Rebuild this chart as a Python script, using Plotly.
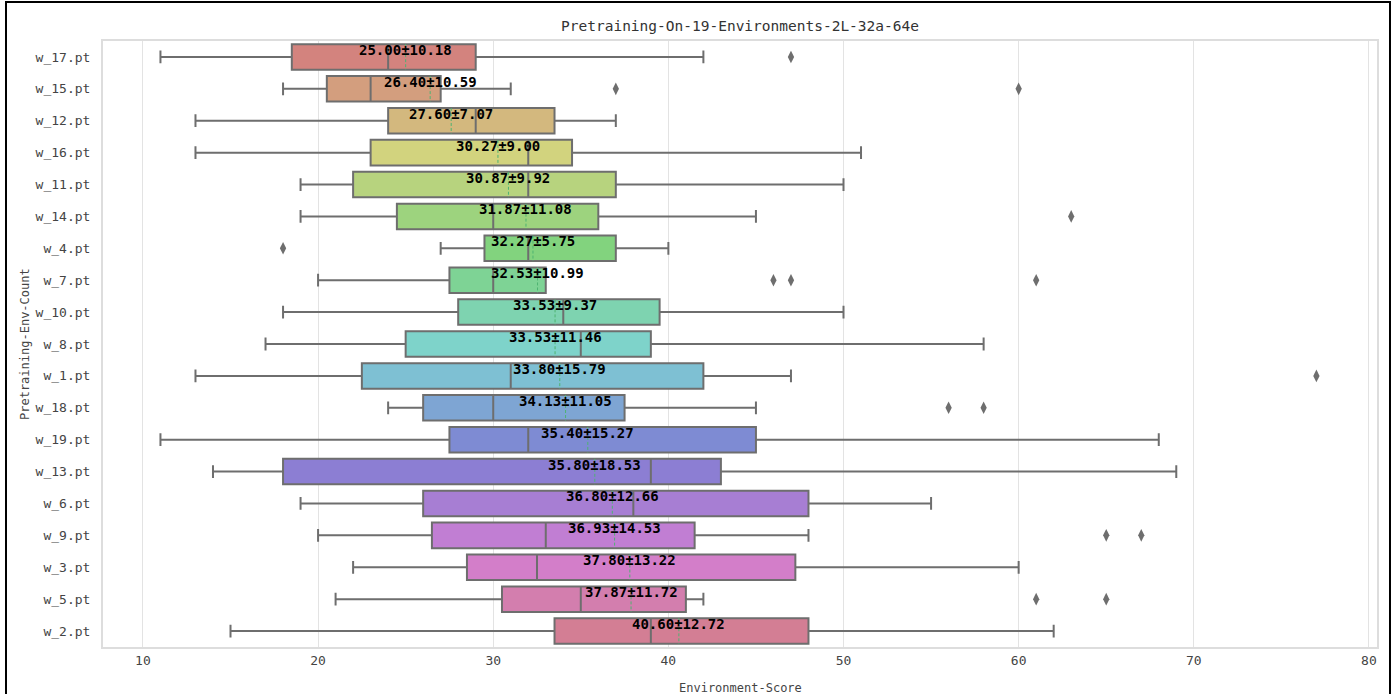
import colorsys
import plotly.graph_objects as go

# Runs sorted by mean score (top to bottom)
labels = ["w_17.pt", "w_15.pt", "w_12.pt", "w_16.pt", "w_11.pt", "w_14.pt", "w_4.pt",
          "w_7.pt", "w_10.pt", "w_8.pt", "w_1.pt", "w_18.pt", "w_19.pt", "w_13.pt",
          "w_6.pt", "w_9.pt", "w_3.pt", "w_5.pt", "w_2.pt"]
lower_whisker = [11, 18, 13, 13, 19, 19, 27, 20, 18, 17, 13, 24, 11, 14, 19, 20, 22, 21, 15]
q1 = [18.5, 20.5, 24, 23, 22, 24.5, 29.5, 27.5, 28, 25, 22.5, 26, 27.5, 18, 26, 26.5, 28.5, 30.5, 33.5]
median = [24, 23, 29, 32, 32, 30, 32, 30, 34, 35, 31, 30, 32, 39, 38, 33, 32.5, 35, 39]
q3 = [29, 27, 33.5, 34.5, 37, 36, 37, 33, 39.5, 39, 42, 37.5, 45, 43, 48, 41.5, 47.25, 41, 48]
upper_whisker = [42, 31, 37, 51, 50, 45, 40, 33, 50, 58, 47, 45, 68, 69, 55, 48, 60, 42, 62]
means = [25.00, 26.40, 27.60, 30.27, 30.87, 31.87, 32.27, 32.53, 33.53, 33.53, 33.80,
         34.13, 35.40, 35.80, 36.80, 36.93, 37.80, 37.87, 40.60]
stds = [10.18, 10.59, 7.07, 9.00, 9.92, 11.08, 5.75, 10.99, 9.37, 11.46, 15.79,
        11.05, 15.27, 18.53, 12.66, 14.53, 13.22, 11.72, 12.72]
outliers = [[47], [37, 60], [], [], [], [63], [18], [46, 47, 61], [], [], [77],
            [56, 58], [], [], [], [65, 67], [], [61, 65], []]
x_ticks = [10, 20, 30, 40, 50, 60, 70, 80]


def hls_palette(n, h=0.01, l=0.6, s=0.65, sat=0.75, fade=0.85):
    cols = []
    for i in range(n):
        hue = (h + i / n) % 1
        r, g, b = colorsys.hls_to_rgb(hue, l, s * sat)
        r, g, b = [c * fade + (1 - fade) for c in (r, g, b)]
        cols.append("rgb(%d,%d,%d)" % (round(r * 255), round(g * 255), round(b * 255)))
    return cols


colors = hls_palette(len(labels))
edge = "#6e6e6e"
mono = "DejaVu Sans Mono"

fig = go.Figure()
for i, lab in enumerate(labels):
    fig.add_trace(go.Box(
        y=[i], q1=[q1[i]], median=[median[i]], q3=[q3[i]],
        lowerfence=[lower_whisker[i]], upperfence=[upper_whisker[i]],
        orientation="h", width=0.8, whiskerwidth=0.5,
        fillcolor=colors[i], line=dict(color=edge, width=2),
        name=lab, showlegend=False, hoverinfo="x",
    ))
    # dashed mean line across the box
    fig.add_trace(go.Scatter(
        x=[means[i], means[i]], y=[i - 0.4, i + 0.4], mode="lines",
        line=dict(color="#4fb372", width=1, dash="3px,2px"),
        showlegend=False, hoverinfo="skip",
    ))
    if outliers[i]:
        fig.add_trace(go.Scatter(
            x=outliers[i], y=[i] * len(outliers[i]), mode="markers",
            marker=dict(symbol="diamond-tall", size=9, color=edge),
            showlegend=False, hoverinfo="x",
        ))
    fig.add_annotation(
        x=means[i], y=i, yshift=7, text="<b>%.2f±%.2f</b>" % (means[i], stds[i]),
        showarrow=False, xanchor="center", yanchor="middle",
        font=dict(family=mono, size=14, color="black"),
    )

W, H = 1396, 694
L, R, T, B = 103, 19, 41, 47
pw, ph = W - L - R, H - T - B

fig.update_layout(
    width=W, height=H,
    margin=dict(l=L, r=R, t=T, b=B),
    plot_bgcolor="white", paper_bgcolor="white",
    font=dict(family=mono, color="#444444"),
    title=dict(text="Pretraining-On-19-Environments-2L-32a-64e", x=0.5, xref="paper",
               y=1 - 26 / H, yref="container", yanchor="middle", xanchor="center",
               font=dict(family=mono, size=14.5, color="#333333")),
    xaxis=dict(range=[7.72, 80.46], tickvals=x_ticks, showgrid=True, gridcolor="#e3e3e3",
               gridwidth=1, zeroline=False, showline=True, mirror=True, linecolor="#dddddd",
               linewidth=2, ticks="", tickfont=dict(family=mono, size=13, color="#444444")),
    yaxis=dict(range=[18.5, -0.5], tickvals=list(range(len(labels))), ticktext=labels,
               showgrid=False, zeroline=False, showline=True, mirror=True, linecolor="#dddddd",
               linewidth=2, ticks="", ticklabelstandoff=8,
               tickfont=dict(family=mono, size=13, color="#444444")),
)

fig.add_annotation(x=0.5, xref="paper", y=-(688 - (H - B)) / ph, yref="paper",
                   text="Environment-Score", showarrow=False, yanchor="middle",
                   font=dict(family=mono, size=12, color="#444444"))
fig.add_annotation(x=-(103 - 25) / pw, xref="paper", y=0.5, yref="paper",
                   text="Pretraining-Env-Count", showarrow=False, textangle=-90,
                   xanchor="center", yanchor="middle",
                   font=dict(family=mono, size=12, color="#444444"))

# outer black frame around the figure
fig.add_shape(type="rect", xref="paper", yref="paper",
              x0=(6 - L) / pw, x1=(1390 - L) / pw,
              y0=-(H + 5 - (H - B)) / ph, y1=((H - B) - 2) / ph,
              line=dict(color="black", width=2), fillcolor="rgba(0,0,0,0)", layer="above")

fig.write_html("out.html")
